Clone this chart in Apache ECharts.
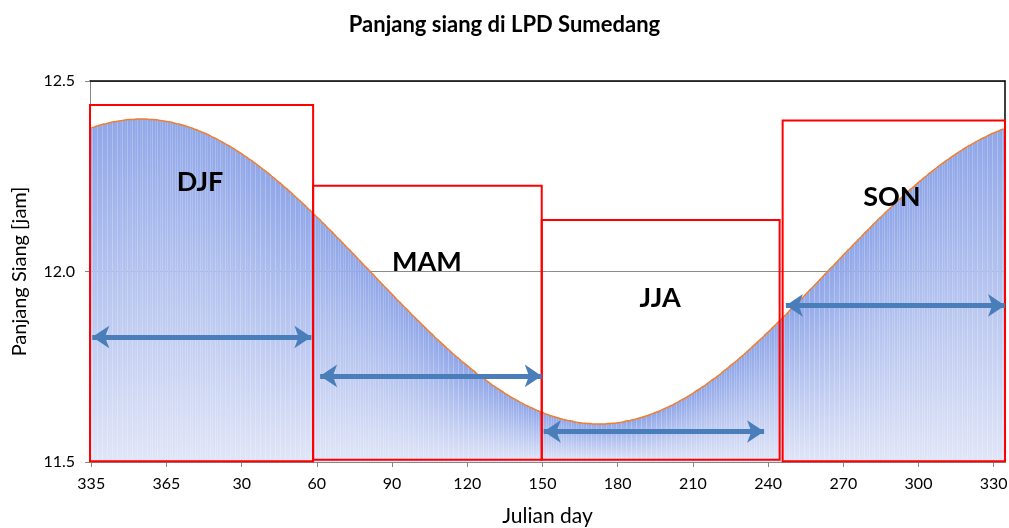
<!DOCTYPE html>
<html>
<head>
<meta charset="utf-8">
<script src="https://cdn.jsdelivr.net/npm/echarts@6/dist/echarts.min.js"></script>
<style>
  html, body { margin: 0; padding: 0; background: #fff; }
  #chart { width: 1009px; height: 528px; }
</style>
</head>
<body>
<div id="chart"></div>
<script>
// ---- data ----
// Julian day categories: 335 .. 365 then 1 .. 334
var firstDays = [335, 365];
var secondDays = [1, 334];
var days = [];
for (var d = firstDays[0]; d <= firstDays[1]; d++) days.push(String(d));
for (var d2 = secondDays[0]; d2 <= secondDays[1]; d2++) days.push(String(d2));

// day length [hours], one value per Julian day
var dayLength = [
12.377,12.379,12.381,12.383,12.385,12.387,12.388,12.390,12.392,12.393,
12.394,12.395,12.396,12.397,12.398,12.399,12.399,12.399,12.400,12.400,
12.400,
12.400,12.400,12.399,12.399,12.399,12.398,12.397,12.396,12.395,12.394,
12.393,12.392,12.390,12.388,12.387,12.385,12.383,12.381,12.379,12.377,
12.374,12.372,12.369,12.366,12.364,12.361,12.358,12.354,12.351,12.348,
12.344,12.341,12.337,12.333,12.330,12.326,12.322,12.317,12.313,12.309,
12.304,12.300,12.295,12.291,12.286,12.281,12.276,12.271,12.266,12.261,
12.256,12.250,12.245,12.239,12.234,12.228,12.222,12.217,12.211,12.205,
12.199,12.193,12.187,12.181,12.175,12.168,12.162,12.156,12.149,12.143,
12.137,12.130,12.124,12.117,12.110,12.104,12.097,12.090,12.084,12.077,
12.070,12.063,12.057,12.050,12.043,12.036,12.029,12.022,12.015,12.009,
12.002,
11.995,11.988,11.981,11.974,11.967,11.960,11.954,11.947,11.940,11.933,
11.926,11.920,11.913,11.906,11.900,11.893,11.886,11.880,11.873,11.867,
11.860,11.854,11.847,11.841,11.835,11.828,11.822,11.816,11.810,11.804,
11.798,11.792,11.786,11.780,11.775,11.769,11.763,11.758,11.753,11.747,
11.742,11.737,11.731,11.726,11.721,11.717,11.712,11.707,11.702,11.698,
11.693,11.689,11.685,11.680,11.676,11.672,11.668,11.665,11.661,11.657,
11.654,11.650,11.647,11.644,11.641,11.638,11.635,11.632,11.630,11.627,
11.625,11.622,11.620,11.618,11.616,11.614,11.612,11.611,11.609,11.608,
11.607,11.605,11.604,11.603,11.602,11.602,11.601,11.601,11.600,11.600,11.600,
11.600,11.600,11.600,11.601,11.601,11.602,11.602,11.603,11.604,11.605,11.607,
11.608,11.609,11.611,11.612,11.614,11.616,11.618,11.620,11.622,11.625,
11.627,11.630,11.632,11.635,11.638,11.641,11.644,11.647,11.650,11.654,
11.657,11.661,11.665,11.668,11.672,11.676,11.680,11.685,11.689,11.693,
11.698,11.702,11.707,11.712,11.717,11.721,11.726,11.731,11.737,11.742,
11.747,11.753,11.758,11.763,11.769,11.775,11.780,11.786,11.792,11.798,
11.804,11.810,11.816,11.822,11.828,11.835,11.841,11.847,11.854,11.860,
11.867,11.873,11.880,11.886,11.893,11.900,11.906,11.913,11.920,11.926,
11.933,11.940,11.947,11.954,11.960,11.967,11.974,11.981,11.988,11.995,
12.002,12.009,12.015,12.022,12.029,12.036,12.043,12.050,12.057,12.063,
12.070,12.077,12.084,12.090,12.097,12.104,12.110,12.117,12.124,12.130,
12.137,12.143,12.149,12.156,12.162,12.168,12.175,12.181,12.187,12.193,
12.199,12.205,12.211,12.217,12.222,12.228,12.234,12.239,12.245,12.250,
12.256,12.261,12.266,12.271,12.276,12.281,12.286,12.291,12.295,12.300,
12.304,12.309,12.313,12.317,12.322,12.326,12.330,12.333,12.337,12.341,
12.344,12.348,12.351,12.354,12.358,12.361,12.364,12.366,12.369,12.372,12.374
];

// y axis
var yMin = 11.5, yMax = 12.5, yStep = 0.5;

// season annotations (x in days counted from the start of the axis, y in hours)
var seasonNames  = ['DJF', 'MAM', 'JJA', 'SON'];
var boxStart     = [0.0, 89.0, 180.2, 276.3];
var boxEnd       = [89.0, 180.2, 275.1, 365.0];
var boxTop       = [12.437, 12.225, 12.135, 12.396];
var boxBottom    = [11.502, 11.506, 11.506, 11.502];
var arrowStart   = [0.9, 91.8, 181.0, 277.6];
var arrowEnd     = [88.3, 180.2, 268.9, 365.0];
var arrowLevel   = [11.828, 11.726, 11.580, 11.911];
var labelDay     = [43.9, 134.4, 227.4, 319.9];
var labelLevel   = [12.235, 12.025, 11.930, 12.196];

// ---- chart ----
var FONT = 'Lato, "Open Sans", sans-serif';
var chart = echarts.init(document.getElementById('chart'), null, { renderer: 'canvas' });

var areas = [], arrows = [], labels = [];
for (var i = 0; i < seasonNames.length; i++) {
  areas.push([{ coord: [boxStart[i], boxTop[i]] }, { coord: [boxEnd[i], boxBottom[i]] }]);
  arrows.push([{ coord: [arrowStart[i], arrowLevel[i]] }, { coord: [arrowEnd[i], arrowLevel[i]] }]);
  labels.push({ name: seasonNames[i], coord: [labelDay[i], labelLevel[i]] });
}

var option = {
  animation: false,
  backgroundColor: '#ffffff',
  textStyle: { fontFamily: FONT },
  title: {
    text: 'Panjang siang di LPD Sumedang',
    left: 'center',
    top: 9,
    textStyle: { fontFamily: FONT, fontSize: 22, fontWeight: 'bold', color: '#000' }
  },
  grid: { left: 90, right: 4, top: 81, bottom: 66, containLabel: false, outerBoundsMode: 'none' },
  xAxis: [
    {
      type: 'category',
      data: days,
      boundaryGap: true,
      position: 'bottom',
      name: 'Julian day',
      nameLocation: 'middle',
      nameGap: 44,
      nameTextStyle: { fontFamily: FONT, fontSize: 21, color: '#000' },
      axisLine: { show: true, lineStyle: { color: '#868686', width: 1 } },
      axisTick: { show: true, interval: 29, alignWithLabel: true, length: 5, lineStyle: { color: '#868686' } },
      axisLabel: { interval: 29, fontSize: 16, color: '#000', margin: 14, fontFamily: FONT, hideOverlap: false },
      splitLine: { show: false }
    },
    {
      type: 'value',
      min: 0,
      max: 365,
      position: 'top',
      axisLine: { show: true, onZero: false, lineStyle: { color: '#000', width: 1.5 } },
      axisTick: { show: false },
      axisLabel: { show: false },
      splitLine: { show: false }
    }
  ],
  yAxis: [
    {
      type: 'value',
      min: yMin,
      max: yMax,
      interval: yStep,
      position: 'left',
      name: 'Panjang Siang [jam]',
      nameLocation: 'middle',
      nameGap: 60,
      nameTextStyle: { fontFamily: FONT, fontSize: 20, color: '#000' },
      axisLine: { show: true, lineStyle: { color: '#868686', width: 1 } },
      axisTick: { show: true, length: 5, lineStyle: { color: '#868686' } },
      axisLabel: { fontSize: 16, color: '#000', margin: 15, fontFamily: FONT,
                   formatter: function (v) { return v.toFixed(1); } },
      splitLine: { show: true, lineStyle: { color: '#8c8c8c', width: 1 } }
    },
    {
      type: 'value',
      min: yMin,
      max: yMax,
      position: 'right',
      axisLine: { show: true, lineStyle: { color: '#000', width: 1.5 } },
      axisTick: { show: false },
      axisLabel: { show: false },
      splitLine: { show: false }
    }
  ],
  series: [
    {
      type: 'bar',
      data: dayLength,
      xAxisIndex: 0,
      yAxisIndex: 0,
      barCategoryGap: '0%',
      itemStyle: {
        color: {
          type: 'linear', x: 0, y: 0, x2: 0, y2: 1,
          colorStops: [
            { offset: 0, color: '#8FA6E8' },
            { offset: 1, color: '#E0E5F7' }
          ]
        }
      },
      silent: true,
      z: 2
    },
    {
      type: 'line',
      data: dayLength,
      xAxisIndex: 0,
      yAxisIndex: 0,
      symbol: 'none',
      lineStyle: { color: '#F07E2E', width: 1.5 },
      silent: true,
      z: 3
    },
    {
      type: 'line',
      data: [],
      xAxisIndex: 1,
      yAxisIndex: 0,
      silent: true,
      clip: false,
      z: 10,
      markArea: {
        silent: true,
        z: 10,
        itemStyle: { color: 'rgba(0,0,0,0)', borderColor: '#FF0000', borderWidth: 2 },
        label: { show: false },
        data: areas
      },
      markLine: {
        silent: true,
        z: 11,
        symbol: ['arrow', 'arrow'],
        symbolSize: 17,
        lineStyle: { color: '#4A7EBB', width: 5, type: 'solid' },
        label: { show: false },
        data: arrows
      },
      markPoint: {
        silent: true,
        z: 12,
        symbol: 'circle',
        symbolSize: 1,
        itemStyle: { color: 'rgba(0,0,0,0)' },
        label: {
          show: true,
          position: 'inside',
          formatter: '{b}',
          fontFamily: FONT,
          fontSize: 27,
          fontWeight: 'bold',
          color: '#000'
        },
        data: labels
      }
    }
  ]
};
chart.setOption(option);
</script>
</body>
</html>
